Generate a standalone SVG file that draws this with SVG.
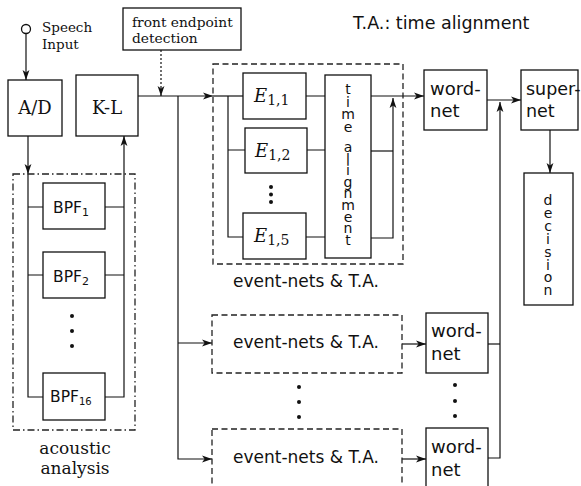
<svg xmlns="http://www.w3.org/2000/svg" width="581" height="486" viewBox="0 0 581 486">
<defs>
  <marker id="arr" markerWidth="11" markerHeight="8" refX="10" refY="4" orient="auto" markerUnits="userSpaceOnUse">
    <path d="M0,0.6 L10,4 L0,7.4 L2.6,4 z" fill="#111"/>
  </marker>
</defs>
<style>
  .box{fill:#fff;stroke:#111;stroke-width:1.3}
  .dash{fill:none;stroke:#222;stroke-width:1.3;stroke-dasharray:6 3.5}
  .dashdot{fill:none;stroke:#222;stroke-width:1.3;stroke-dasharray:7 3 1.5 3}
  .ln{fill:none;stroke:#111;stroke-width:1.2}
  .dotted{fill:none;stroke:#111;stroke-width:1.2;stroke-dasharray:2 2}
  .arr{marker-end:url(#arr)}
  .serif{font-family:"DejaVu Serif","Liberation Serif",serif;fill:#111}
  .ital{font-family:"DejaVu Serif","Liberation Serif",serif;font-style:italic;fill:#111}
  .sans{font-family:"DejaVu Sans","Liberation Sans",sans-serif;fill:#111}
  .mid{text-anchor:middle}
  .vert{font-family:"DejaVu Sans","Liberation Sans",sans-serif;fill:#111;writing-mode:vertical-rl;text-orientation:upright;font-size:14px}
  .pt{fill:#111}
</style>
<rect width="581" height="486" fill="#fff"/>

<!-- connectors -->
<g id="connectors">
  <path class="ln arr" d="M26,34 V80"/>
  <path class="dotted arr" d="M161,50 V96"/>
  <path class="ln arr" d="M138,96 H213"/>
  <path class="ln" d="M213,96 H243"/>
  <path class="ln" d="M228,96 V237 H243 M228,150 H245"/>
  <path class="ln" d="M306,96 H325 M307,150 H325 M306,237 H325"/>
  <path class="ln arr" d="M371,96 H424"/>
  <path class="ln arr" d="M371,238 H393 V98"/>
  <path class="ln" d="M371,151 H393"/>
  <path class="ln arr" d="M487,100 H521"/>
  <path class="ln arr" d="M488,458 H500 V102"/>
  <path class="ln" d="M488,344 H500"/>
  <path class="ln arr" d="M550,130 V173"/>
  <path class="ln arr" d="M178,96 V459 H212"/>
  <path class="ln arr" d="M178,343 H212"/>
  <path class="ln arr" d="M402,344 H426"/>
  <path class="ln arr" d="M402,459 H426"/>
  <path class="ln arr" d="M28,136 V174"/>
  <path class="ln" d="M28,174 V397 H43 M28,207 H43 M28,275 H43"/>
  <path class="ln arr" d="M105,397 H124 V136"/>
  <path class="ln" d="M105,207 H124 M105,275 H124"/>
</g>

<!-- speech input terminal -->
<g id="speech-input">
  <circle cx="26" cy="29" r="4.5" fill="#fff" stroke="#111" stroke-width="1.3"/>
  <text class="serif" x="42" y="32" font-size="13.5">Speech</text>
  <text class="serif" x="42" y="49" font-size="13.5">Input</text>
</g>

<g id="ad">
  <rect class="box" x="8" y="80" width="54" height="56"/>
  <text class="serif mid" x="35" y="114" font-size="18">A/D</text>
</g>

<g id="kl">
  <rect class="box" x="76" y="75" width="62" height="61"/>
  <text class="serif mid" x="107" y="114" font-size="18">K-L</text>
</g>

<g id="front-endpoint">
  <rect class="box" x="123" y="8" width="118" height="42"/>
  <text class="serif" x="132" y="27" font-size="13.8">front endpoint</text>
  <text class="serif" x="132" y="43" font-size="13.8">detection</text>
</g>

<text id="legend" class="sans" x="353" y="29" font-size="17.5">T.A.: time alignment</text>

<!-- acoustic analysis block -->
<g id="acoustic-analysis">
  <rect class="dashdot" x="13" y="174" width="122" height="256"/>
  <g id="bpf1">
    <rect class="box" x="43" y="183" width="62" height="46"/>
    <text class="sans" x="53" y="213" font-size="15.5">BPF<tspan font-size="11" dy="3">1</tspan></text>
  </g>
  <g id="bpf2">
    <rect class="box" x="43" y="252" width="62" height="46"/>
    <text class="sans" x="53" y="282" font-size="15.5">BPF<tspan font-size="11" dy="3">2</tspan></text>
  </g>
  <circle class="pt" cx="72" cy="316" r="2"/>
  <circle class="pt" cx="72" cy="331" r="2"/>
  <circle class="pt" cx="72" cy="346" r="2"/>
  <g id="bpf16">
    <rect class="box" x="43" y="373" width="62" height="47"/>
    <text class="sans" x="50" y="402" font-size="15.5">BPF<tspan font-size="10" dy="3">16</tspan></text>
  </g>
  <text class="serif mid" x="75" y="454" font-size="17">acoustic</text>
  <text class="serif mid" x="75" y="474" font-size="17">analysis</text>
</g>

<!-- first event-net bank with time alignment -->
<g id="event-nets-1">
  <rect class="dash" x="213" y="64" width="190" height="200"/>
  <g id="e11">
    <rect class="box" x="243" y="73" width="63" height="46"/>
    <text x="254" y="102"><tspan class="ital" font-size="18">E</tspan><tspan class="serif" font-size="14" dy="3">1,1</tspan></text>
  </g>
  <g id="e12">
    <rect class="box" x="245" y="128" width="62" height="45"/>
    <text x="255" y="157"><tspan class="ital" font-size="18">E</tspan><tspan class="serif" font-size="14" dy="3">1,2</tspan></text>
  </g>
  <circle class="pt" cx="271" cy="187" r="2"/>
  <circle class="pt" cx="271" cy="194.5" r="2"/>
  <circle class="pt" cx="271" cy="202" r="2"/>
  <g id="e15">
    <rect class="box" x="243" y="213" width="63" height="46"/>
    <text x="254" y="242"><tspan class="ital" font-size="18">E</tspan><tspan class="serif" font-size="14" dy="3">1,5</tspan></text>
  </g>
  <g id="time-alignment">
    <rect class="box" x="325" y="75" width="46" height="183"/>
    <text class="vert" x="348" y="81" letter-spacing="-3.3">time</text>
    <text class="vert" x="348" y="139" letter-spacing="-4.4">alignment</text>
  </g>
  <text class="sans mid" x="306" y="287" font-size="17">event-nets &amp; T.A.</text>
</g>

<g id="event-nets-2">
  <rect class="dash" x="212" y="315" width="190" height="58"/>
  <text class="sans mid" x="306" y="348" font-size="17">event-nets &amp; T.A.</text>
</g>
<circle class="pt" cx="299" cy="387" r="2"/>
<circle class="pt" cx="299" cy="402" r="2"/>
<circle class="pt" cx="299" cy="417" r="2"/>
<g id="event-nets-n">
  <rect class="dash" x="212" y="429" width="190" height="70"/>
  <text class="sans mid" x="306" y="463" font-size="17">event-nets &amp; T.A.</text>
</g>

<g id="word-net-1">
  <rect class="box" x="424" y="70" width="63" height="60"/>
  <text class="sans" x="430" y="95" font-size="18">word-</text>
  <text class="sans" x="430" y="117" font-size="18">net</text>
</g>
<g id="word-net-2">
  <rect class="box" x="426" y="313" width="62" height="60"/>
  <text class="sans" x="431" y="337" font-size="18">word-</text>
  <text class="sans" x="431" y="360" font-size="18">net</text>
</g>
<circle class="pt" cx="455" cy="385" r="2"/>
<circle class="pt" cx="455" cy="401" r="2"/>
<circle class="pt" cx="455" cy="416" r="2"/>
<g id="word-net-n">
  <rect class="box" x="426" y="428" width="62" height="70"/>
  <text class="sans" x="431" y="453" font-size="18">word-</text>
  <text class="sans" x="431" y="476" font-size="18">net</text>
</g>

<g id="super-net">
  <rect class="box" x="521" y="70" width="57" height="60"/>
  <text class="sans" x="526" y="95" font-size="17.5">super-</text>
  <text class="sans" x="526" y="117" font-size="17.5">net</text>
</g>

<g id="decision">
  <rect class="box" x="524" y="173" width="49" height="132"/>
  <text class="vert" x="548" y="192" letter-spacing="-3.1">decision</text>
</g>
</svg>
